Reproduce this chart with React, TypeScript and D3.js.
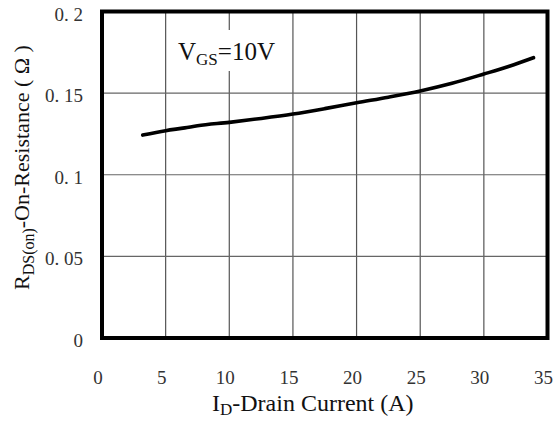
import React from 'react';
import * as d3 from 'd3';

// values
const currentA = [3.2, 5, 6.5, 7.5, 10, 12.5, 15, 17.5, 20, 22.5, 25, 27.5, 30, 32, 33.9];
const rdsOhm = [0.1243, 0.127, 0.1287, 0.13, 0.1321, 0.1345, 0.1372, 0.1405, 0.1441, 0.1475, 0.1513, 0.156, 0.1617, 0.1665, 0.1717];
const xTicks = [0, 5, 10, 15, 20, 25, 30, 35];
const yTicks = [0, 0.05, 0.1, 0.15, 0.2];
const yTickLabels = ['0', '0. 05', '0. 1', '0. 15', '0. 2'];

const W = 553;
const H = 422;
const font = '"Liberation Serif", "Times New Roman", serif';

const App: React.FC = () => {
  const x = d3.scaleLinear().domain([0, 35]).range([102, 547.5]);
  const y = d3.scaleLinear().domain([0, 0.2]).range([338, 11.5]);

  const pts = currentA.map((a, i) => ({ a, r: rdsOhm[i] }));
  const line = d3.line<{ a: number; r: number }>()
    .x(d => x(d.a))
    .y(d => y(d.r))
    .curve(d3.curveMonotoneX);

  return (
    <svg width={W} height={H} style={{ position: 'absolute', left: 0, top: 0, background: '#fff' }}>
      {/* grid */}
      {xTicks.slice(1, -1).map(t => (
        <line key={'gx' + t} x1={x(t)} x2={x(t)} y1={y(0.2)} y2={y(0)} stroke="#555" strokeWidth={1.2} />
      ))}
      {yTicks.slice(1, -1).map(t => (
        <line key={'gy' + t} x1={x(0)} x2={x(35)} y1={y(t)} y2={y(t)} stroke="#666" strokeWidth={1.2} />
      ))}

      {/* label box */}
      <rect x={168} y={30} width={119} height={41} fill="#fff" />
      <text x={178} y={60} fontFamily={font} fontSize={25} fill="#111">
        V<tspan fontSize={17} dy={5}>GS</tspan><tspan dy={-5}>=10V</tspan>
      </text>

      {/* curve */}
      <path d={line(pts) || ''} fill="none" stroke="#000" strokeWidth={3.6} strokeLinecap="round" />

      {/* frame */}
      <rect x={x(0)} y={y(0.2)} width={x(35) - x(0)} height={y(0) - y(0.2)} fill="none" stroke="#000" strokeWidth={4} />

      {/* y ticks */}
      {yTicks.map((t, i) => (
        <text key={'yt' + t} x={83} y={y(t) + 9} textAnchor="end" fontFamily={font} fontSize={19} fill="#333">
          {yTickLabels[i]}
        </text>
      ))}

      {/* x ticks */}
      {xTicks.map(t => (
        <text key={'xt' + t} x={x(t) - 4} y={384} textAnchor="middle" fontFamily={font} fontSize={19} fill="#333">
          {t}
        </text>
      ))}

      {/* axis titles */}
      <text x={212} y={411} fontFamily={font} fontSize={24} fill="#111">
        I<tspan fontSize={17} dy={4}>D</tspan><tspan dy={-4}>-Drain Current (A)</tspan>
      </text>
      <text transform="translate(29,290) rotate(-90)" fontFamily={font} fontSize={22} fill="#111">
        R<tspan fontSize={16} dy={5}>DS(on)</tspan><tspan dy={-5}>-On-Resistance ( Ω )</tspan>
      </text>
    </svg>
  );
};

export default App;
